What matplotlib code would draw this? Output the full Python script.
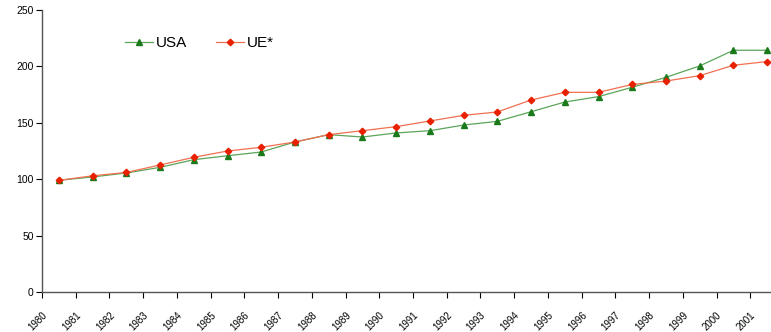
import matplotlib
matplotlib.use("Agg")
import matplotlib.pyplot as plt
import numpy as np

years = list(range(1980, 2002))
tick_labels = [str(y) for y in years]
usa = [99, 102, 105.5, 110.5, 117.3, 120.8, 124.1, 133, 139.5, 137.4, 141, 143,
       148, 151.3, 159.8, 168.4, 173.2, 181.5, 190.3, 200.4, 214.3, 214.3]
ue = [99, 103, 106, 112.6, 119.4, 125, 128.3, 133, 139.5, 143, 146.6, 151.6,
      156.6, 159.6, 170.2, 177, 177, 184, 187, 191.8, 201, 204.3]

plt.rcParams['font.family'] = ['Liberation Sans', 'DejaVu Sans']

fig = plt.figure(figsize=(7.71, 3.32), dpi=100)
ax = fig.add_axes([42/771, 40/332, 742/771, 282/332])

x = np.array(years) + 0.5
ax.plot(x, usa, color='#5aa55a', lw=0.9, marker='^', ms=4.5,
        mfc='#1a7a1a', mec='#1a7a1a', label='USA', clip_on=False)
ax.plot(x, ue, color='#f07050', lw=0.9, marker='D', ms=3.3,
        mfc='#e82000', mec='#e82000', label='UE*', clip_on=False)

ax.set_xlim(1980, 2002)
ax.set_ylim(0, 250)
ax.set_yticks([0, 50, 100, 150, 200, 250])
ax.set_xticks(years)
ax.set_xticklabels(tick_labels, rotation=45, ha='right', rotation_mode='anchor')
ax.tick_params(axis='x', labelsize=7, length=4, pad=9, direction='out')
ax.tick_params(axis='y', labelsize=7.5, length=4, pad=2, direction='out')
for s in ['top', 'right']:
    ax.spines[s].set_visible(False)
for s in ['left', 'bottom']:
    ax.spines[s].set_color('#555555')
    ax.spines[s].set_linewidth(1.0)

ax.legend(loc='upper left', bbox_to_anchor=(0.094, 0.955), ncol=2, frameon=False,
          fontsize=11, handlelength=1.8, handletextpad=0.2, columnspacing=1.9,
          markerscale=1.0)

fig.savefig('out.png', dpi=100)
